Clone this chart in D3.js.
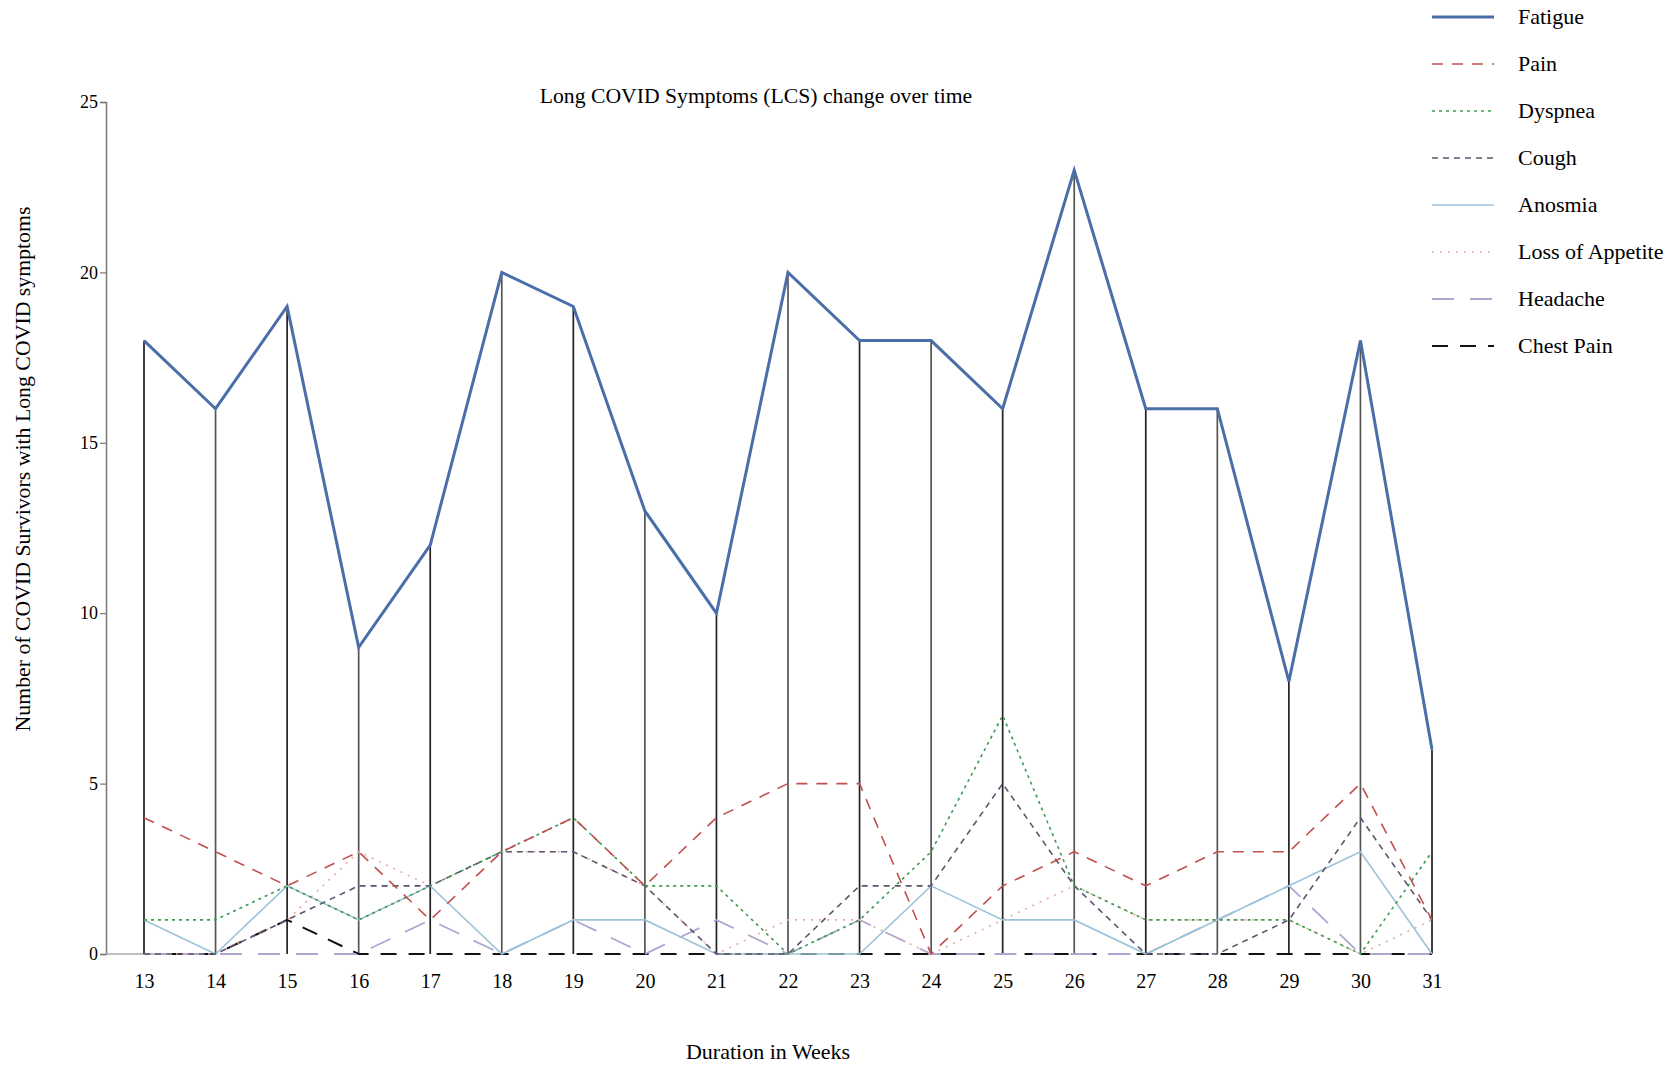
<!DOCTYPE html>
<html>
<head>
<meta charset="utf-8">
<script src="https://cdn.jsdelivr.net/npm/d3@7/dist/d3.min.js"></script>
<style>
  html, body { margin: 0; padding: 0; background: #fff; }
  svg { display: block; font-family: "Liberation Serif", "Times New Roman", serif; }
</style>
</head>
<body>
<svg id="chart" width="1672" height="1066"></svg>
<script>
const weeks = [13,14,15,16,17,18,19,20,21,22,23,24,25,26,27,28,29,30,31];
const fatigue        = [18,16,19,9,12,20,19,13,10,20,18,18,16,23,16,16,8,18,6];
const pain           = [4,3,2,3,1,3,4,2,4,5,5,0,2,3,2,3,3,5,1];
const dyspnea        = [1,1,2,1,2,3,4,2,2,0,1,3,7,2,1,1,1,0,3];
const cough          = [0,0,1,2,2,3,3,2,0,0,2,2,5,2,0,0,1,4,1];
const anosmia        = [1,0,2,1,2,0,1,1,0,0,0,2,1,1,0,1,2,3,0];
const lossOfAppetite = [0,0,1,3,2,3,3,2,0,1,1,0,1,2,1,1,1,0,1];
const headache       = [0,0,0,0,1,0,1,0,1,0,1,0,0,0,0,1,2,0,0];
const chestPain      = [0,0,1,0,0,0,0,0,0,0,0,0,0,0,0,0,0,0,0];
const seriesNames = ["Fatigue","Pain","Dyspnea","Cough","Anosmia","Loss of Appetite","Headache","Chest Pain"];
const yTicks = [0,5,10,15,20,25];
const titleText = "Long COVID Symptoms (LCS) change over time";
const xTitle = "Duration in Weeks";
const yTitle = "Number of COVID Survivors with Long COVID symptoms";

const seriesValues = [fatigue, pain, dyspnea, cough, anosmia, lossOfAppetite, headache, chestPain];
const styles = [
  {color:"#4a6fa8", width:3,   dash:null},
  {color:"#c0504d", width:1.6, dash:"11,9"},
  {color:"#3f9a52", width:1.6, dash:"3,4"},
  {color:"#5d5470", width:1.6, dash:"6,5"},
  {color:"#9cc3d8", width:1.6, dash:null},
  {color:"#e7a9a2", width:1.6, dash:"2,6"},
  {color:"#a9a9d3", width:1.8, dash:"22,16"},
  {color:"#111111", width:2,   dash:"16,12"}
];

const svg = d3.select("#chart");
const x = d3.scalePoint().domain(weeks).range([144, 1432]);
const y = d3.scaleLinear().domain([0,25]).range([954, 102]);
const axisX = 106;

// y axis
const yAxis = d3.axisLeft(y).tickValues(yTicks).tickSize(6).tickPadding(2);
const gy = svg.append("g").attr("transform", `translate(${axisX},0)`).call(yAxis);
gy.select(".domain").attr("stroke", "#777").attr("stroke-width", 1.5);
gy.selectAll(".tick line").attr("stroke", "#777").attr("stroke-width", 1.2);
gy.selectAll(".tick text").attr("font-family", "Liberation Serif").attr("font-size", 18).attr("fill", "#000");

// short baseline from axis to first week
svg.append("line").attr("x1", axisX).attr("x2", x(weeks[0])).attr("y1", y(0)).attr("y2", y(0))
  .attr("stroke", "#aaa").attr("stroke-width", 1.5);

// x tick labels
const xAxis = d3.axisBottom(x).tickSize(0).tickPadding(20);
const gx = svg.append("g").attr("transform", `translate(0,${y(0)})`).call(xAxis);
gx.select(".domain").remove();
gx.selectAll(".tick text").attr("font-family", "Liberation Serif").attr("font-size", 20).attr("fill", "#000");

// vertical drop lines at each week
svg.append("g").selectAll("line").data(weeks).join("line")
  .attr("x1", d => x(d)).attr("x2", d => x(d))
  .attr("y1", y(0)).attr("y2", (d,i) => y(fatigue[i]))
  .attr("stroke", (d,i) => i % 2 ? "#555" : "#222").attr("stroke-width", 1.7);

// series lines (draw minor first, fatigue last)
const line = d3.line().x((d,i) => x(weeks[i])).y(d => y(d));
const order = [7,6,5,4,3,2,1,0];
svg.append("g").selectAll("path").data(order).join("path")
  .attr("d", k => line(seriesValues[k]))
  .attr("fill", "none")
  .attr("stroke", k => styles[k].color)
  .attr("stroke-width", k => styles[k].width)
  .attr("stroke-dasharray", k => styles[k].dash)
  .attr("stroke-linejoin", "miter");

// title
svg.append("text").attr("x", 756).attr("y", 103).attr("text-anchor", "middle")
  .attr("font-size", 21.7).attr("fill", "#000").text(titleText);

// axis titles
svg.append("text").attr("x", 768).attr("y", 1059).attr("text-anchor", "middle")
  .attr("font-size", 22).attr("fill", "#000").text(xTitle);
svg.append("text").attr("transform", "translate(30,469) rotate(-90)").attr("text-anchor", "middle")
  .attr("font-size", 21.8).attr("fill", "#000").text(yTitle);

// legend
const legend = svg.append("g");
const rows = legend.selectAll("g").data(seriesNames).join("g")
  .attr("transform", (d,i) => `translate(1432,${17 + i*47})`);
rows.append("line").attr("x1", 0).attr("x2", 62).attr("y1", 0).attr("y2", 0)
  .attr("stroke", (d,i) => styles[i].color)
  .attr("stroke-width", (d,i) => styles[i].width)
  .attr("stroke-dasharray", (d,i) => styles[i].dash);
rows.append("text").attr("x", 86).attr("y", 7).attr("font-size", 22).attr("fill", "#000").text(d => d);
</script>
</body>
</html>
